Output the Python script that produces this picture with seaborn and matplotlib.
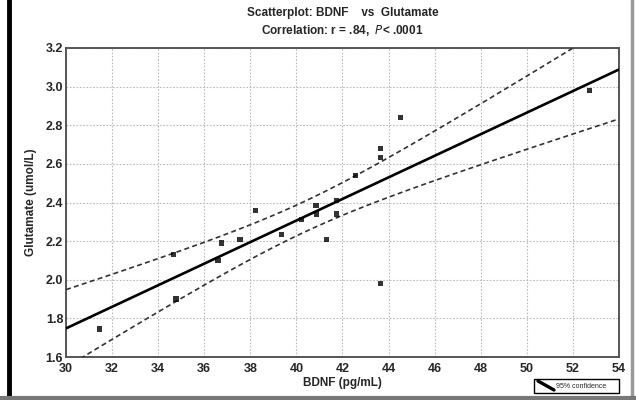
import numpy as np
import pandas as pd
import matplotlib
matplotlib.use("Agg")
import matplotlib.pyplot as plt
from matplotlib.lines import Line2D
from matplotlib.patches import Rectangle
import seaborn as sns

# ---- data ----
bdnf = [31.45, 34.65, 34.77, 36.60, 36.74, 37.55, 38.23, 39.36, 40.23, 40.85,
        40.88, 41.32, 41.73, 41.73, 42.56, 43.65, 43.65, 43.65, 44.51, 52.72]
glutamate = [1.745, 2.13, 1.90, 2.10, 2.19, 2.21, 2.36, 2.236, 2.31, 2.383,
             2.34, 2.21, 2.41, 2.34, 2.54, 2.68, 2.632, 1.98, 2.84, 2.98]
x_ticks = [30, 32, 34, 36, 38, 40, 42, 44, 46, 48, 50, 52, 54]
y_ticks = [1.6, 1.8, 2.0, 2.2, 2.4, 2.6, 2.8, 3.0, 3.2]

df = pd.DataFrame({"BDNF": bdnf, "Glutamate": glutamate})

sns.set_style("white")
plt.rcParams["font.family"] = ["Liberation Sans", "DejaVu Sans"]

fig = plt.figure(figsize=(6.36, 4.0), dpi=100)
ax = fig.add_axes([66/636, 1-357/400, (619-66)/636, (357-48)/400])
ax.set_xlim(30, 54)
ax.set_ylim(1.6, 3.2)

sns.regplot(data=df, x="BDNF", y="Glutamate", ax=ax, ci=None, truncate=False,
            marker="s",
            scatter_kws=dict(s=14, color="black", edgecolors="none", zorder=4),
            line_kws=dict(color="black", lw=1.9, zorder=3))

# analytic 95% confidence band for the mean, drawn as dashed lines
xa = np.asarray(bdnf); ya = np.asarray(glutamate)
n = len(xa)
b1, b0 = np.polyfit(xa, ya, 1)
resid = ya - (b0 + b1 * xa)
s = np.sqrt(np.sum(resid**2) / (n - 2))
xg = np.linspace(30, 54, 200)
tcrit = 2.101
se = s * np.sqrt(1/n + (xg - xa.mean())**2 / np.sum((xa - xa.mean())**2))
yfit = b0 + b1 * xg
for band in (yfit + tcrit*se, yfit - tcrit*se):
    ax.plot(xg, band, color="#333333", lw=1.2, ls=(0, (3, 2)), zorder=3)

ax.set_xlim(30, 54)
ax.set_ylim(1.6, 3.2)
ax.set_xticks(x_ticks)
ax.set_yticks(y_ticks)
ax.set_xticklabels([str(v) for v in x_ticks], fontsize=9, fontweight="bold")
ax.set_yticklabels([f"{v:.1f}" for v in y_ticks], fontsize=9, fontweight="bold")
ax.tick_params(direction="in", length=3, width=1, color="#444444", pad=2)
ax.tick_params(axis="x", pad=4)
ax.grid(True, color="#bbbbbb", lw=0.8, ls=(0, (1.5, 1.5)))
for sp in ax.spines.values():
    sp.set_color("#555555")
    sp.set_linewidth(1.4)

ax.set_xlabel("BDNF (pg/mL)", fontsize=8.5, fontweight="bold", labelpad=2)
ax.set_ylabel("Glutamate (umol/L)", fontsize=8.5, fontweight="bold", labelpad=6)

cx = (66 + 619) / 2 / 636
fig.text(cx, 1 - 13/400, "Scatterplot: BDNF    vs  Glutamate", ha="center", va="center",
         fontsize=8.5, fontweight="bold")
fig.text(cx, 1 - 31/400, r"Correlation: r = .84,  $\bf{\it{P}}$< .0001", ha="center", va="center",
         fontsize=8.5, fontweight="bold")

# legend box at bottom right
fig.add_artist(Rectangle((534/636, 1-393/400), (619-534)/636, 14/400,
                         transform=fig.transFigure, fc="white", ec="black", lw=1))
fig.add_artist(Line2D([538/636, 554/636], [1-381/400, 1-390/400], color="black", lw=2.4))
fig.text(556/636, 1 - 386/400, "95% confidence", ha="left", va="center", fontsize=5)

# outer frame of the screenshot
fig.add_artist(Line2D([9/636, 9/636], [0, 1], color="black", lw=3.5))
fig.add_artist(Line2D([632/636, 632/636], [0, 1], color="#999999", lw=2.5))
fig.add_artist(Line2D([0, 1], [1-398/400, 1-398/400], color="#777777", lw=3))

fig.savefig("out.png", dpi=100, facecolor="white")
